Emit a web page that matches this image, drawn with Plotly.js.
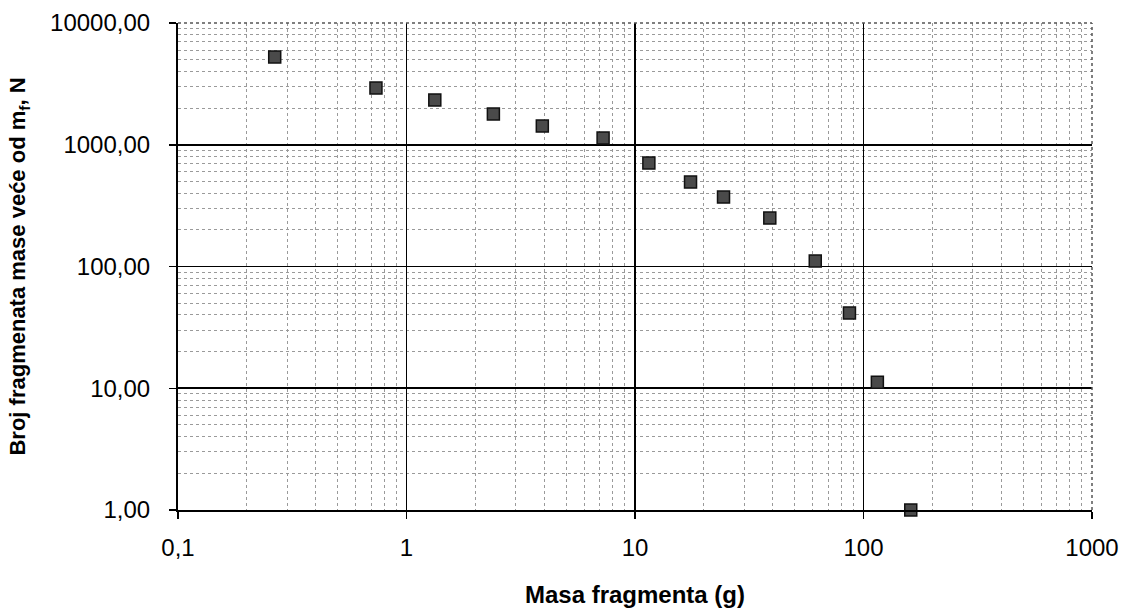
<!DOCTYPE html>
<html>
<head>
<meta charset="utf-8">
<script src="https://cdn.plot.ly/plotly-3.0.1.min.js"></script>
<style>html,body{margin:0;padding:0;background:#fff;}#chart{width:1137px;height:611px;}</style>
</head>
<body>
<div id="chart"></div>
<script>
// Fragment mass (g) and number of fragments with mass greater than mf
const masa = [0.265, 0.735, 1.33, 2.40, 3.93, 7.25, 11.5, 17.5, 24.4, 38.9, 61.5, 86.8, 115, 161];
const broj = [5260, 2924, 2332, 1789, 1426, 1136, 708, 494, 372, 250, 111, 41.5, 11.2, 1.0];

const xTickVals = [0.1, 1, 10, 100, 1000];
const xTickText = ['0,1', '1', '10', '100', '1000'];
const yTickVals = [1, 10, 100, 1000, 10000];
const yTickText = ['1,00', '10,00', '100,00', '1000,00', '10000,00'];

const trace = {
  x: masa, y: broj, type: 'scatter', mode: 'markers', cliponaxis: false,
  marker: {symbol: 'square', size: 12, color: '#4a4a4a', line: {color: '#111', width: 1.5}},
  showlegend: false, hoverinfo: 'x+y'
};

const font = 'Liberation Sans, Arial, sans-serif';
const layout = {
  width: 1137, height: 611,
  margin: {l: 178, r: 45, t: 23, b: 101},
  paper_bgcolor: '#fff', plot_bgcolor: '#fff',
  font: {family: font, color: '#000'},
  xaxis: {
    type: 'log', range: [-1, 3],
    tickvals: xTickVals, ticktext: xTickText,
    tickfont: {size: 24, family: font},
    ticks: 'outside', ticklen: 7, tickcolor: '#000', tickwidth: 1.5,
    ticklabelstandoff: 8,
    showline: true, linecolor: '#000', linewidth: 2,
    showgrid: true, gridcolor: '#000', gridwidth: 1.8,
    minor: {showgrid: true, dtick: 'D1', gridcolor: '#9a9a9a', griddash: 'dot', gridwidth: 1},
    zeroline: false, automargin: false,
    title: {text: '<b>Masa fragmenta (g)</b>', font: {size: 24, family: font}, standoff: 26}
  },
  yaxis: {
    type: 'log', range: [0, 4],
    tickvals: yTickVals, ticktext: yTickText,
    tickfont: {size: 24, family: font},
    ticks: 'outside', ticklen: 7, tickcolor: '#000', tickwidth: 1.5,
    ticklabelstandoff: 14,
    showline: true, linecolor: '#000', linewidth: 2,
    showgrid: true, gridcolor: '#000', gridwidth: 1.8,
    minor: {showgrid: true, dtick: 'D1', gridcolor: '#9a9a9a', griddash: 'dot', gridwidth: 1},
    zeroline: false, automargin: false,
    title: {text: '<b>Broj fragmenata mase veće od m<sub>f</sub>, N</b>', font: {size: 22, family: font}, standoff: 18}
  },
  shapes: [
    {type: 'line', xref: 'paper', yref: 'paper', x0: 0, x1: 1, y0: 1, y1: 1, line: {color: '#555', width: 1.5, dash: 'dot'}},
    {type: 'line', xref: 'paper', yref: 'paper', x0: 1, x1: 1, y0: 0, y1: 1, line: {color: '#555', width: 1.5, dash: 'dot'}}
  ]
};

Plotly.newPlot('chart', [trace], layout, {displayModeBar: false, staticPlot: true});
</script>
</body>
</html>
